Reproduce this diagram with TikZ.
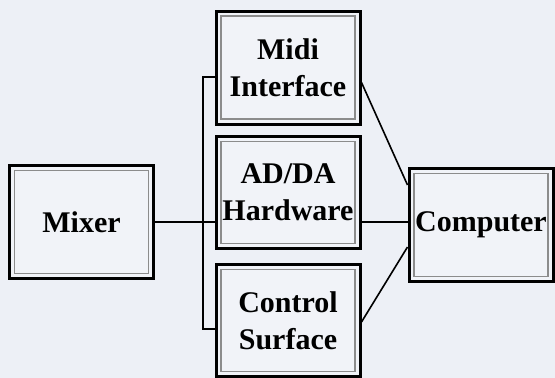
\documentclass[tikz,border=0pt]{standalone}
\usepackage{fontspec}
\setmainfont{Liberation Serif}
\usepackage{tikz}
\usetikzlibrary{positioning}
\definecolor{bgcol}{RGB}{237,240,246}
\definecolor{boxcol}{RGB}{241,243,248}
\definecolor{rimcol}{RGB}{140,140,140}
\tikzset{
  unitbox/.style={draw=black, line width=3pt, fill=boxcol, minimum width=144pt, minimum height=113pt,
    inner sep=0pt, align=center, font=\fontsize{30}{37}\selectfont\bfseries,
    path picture={\draw[rimcol, line width=1.2pt] ([shift={(5pt,-5pt)}]path picture bounding box.north west) rectangle ([shift={(-5pt,5pt)}]path picture bounding box.south east);}},
  wire/.style={line width=1.6pt, black}
}

\begin{document}
\begin{tikzpicture}[x=1pt,y=-1pt]
      \fill[bgcol] (0,0) rectangle (555,378);
      \useasboundingbox (0,0) rectangle (555,378);
      % boxes
      \node[unitbox] (mixer) at (81.5,222) {Mixer};
      \node[unitbox] (midi) at (288,67.5) {Midi\\Interface};
      \node[unitbox, minimum height=112pt] (adda) at (288,192.5) {AD/DA\\Hardware};
      \node[unitbox, minimum height=112pt] (ctrl) at (288,320.5) {Control\\Surface};
      \node[unitbox] (comp) at (481,225) {Computer};
      % bus on the left
      \coordinate (bustop) at (203,77);
      \coordinate (busbot) at (203,329);
      \draw[wire] (midi.west |- bustop) -- (bustop) -- (busbot) -- (ctrl.west |- busbot);
      \draw[wire] (mixer.east) -- (adda.west |- mixer.east);
      % links to the computer
      \draw[wire] (adda.east |- mixer.east) -- (comp.west |- mixer.east);
      \draw[wire] ([yshift=-15pt]midi.east) -- ([yshift=40pt]comp.west);
      \draw[wire] ([yshift=-1.5pt]ctrl.east) -- ([yshift=-22pt]comp.west);
   \end{tikzpicture}
\end{document}
